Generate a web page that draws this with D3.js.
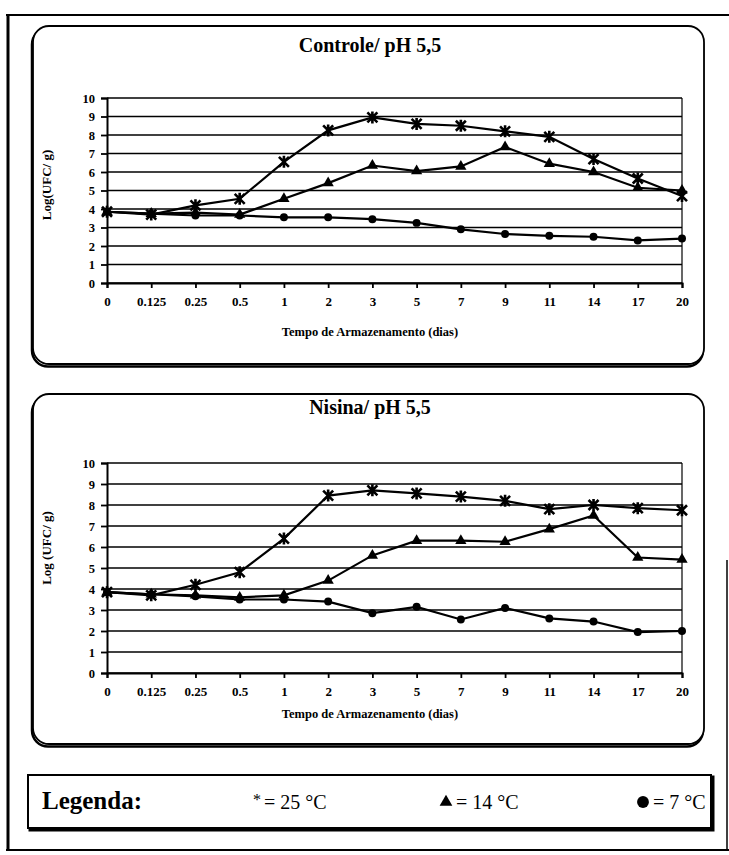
<html lang="pt">
<head>
<meta charset="utf-8">
<title>Controle e Nisina / pH 5,5</title>
<script src="https://d3js.org/d3.v7.min.js"></script>
<style>
  body { margin: 0; background: #fff; }
  text { font-family: "Liberation Serif", "Times New Roman", serif; fill: #000; }
</style>
</head>
<body>
<div id="chart"></div>
<script>
// storage time categories (dias)
var days = ["0", "0.125", "0.25", "0.5", "1", "2", "3", "5", "7", "9", "11", "14", "17", "20"];
var yTicks = [0, 1, 2, 3, 4, 5, 6, 7, 8, 9, 10];

// Controle / pH 5,5
var controle25 = [3.85, 3.7, 4.2, 4.55, 6.55, 8.25, 8.95, 8.6, 8.5, 8.2, 7.9, 6.7, 5.65, 4.7];
var controle14 = [3.85, 3.75, 3.8, 3.7, 4.55, 5.4, 6.35, 6.05, 6.3, 7.35, 6.45, 6.0, 5.15, 5.0];
var controle7  = [3.85, 3.75, 3.65, 3.65, 3.55, 3.55, 3.45, 3.25, 2.9, 2.65, 2.55, 2.5, 2.3, 2.4];

// Nisina / pH 5,5
var nisina25 = [3.85, 3.7, 4.2, 4.8, 6.4, 8.45, 8.7, 8.55, 8.4, 8.2, 7.8, 8.0, 7.85, 7.75];
var nisina14 = [3.85, 3.75, 3.7, 3.6, 3.7, 4.4, 5.6, 6.3, 6.3, 6.25, 6.85, 7.5, 5.5, 5.4];
var nisina7  = [3.85, 3.75, 3.65, 3.5, 3.5, 3.4, 2.85, 3.15, 2.55, 3.1, 2.6, 2.45, 1.95, 2.0];

// legend
var legendLabels = ["= 25 °C", "= 14 °C", "= 7 °C"];

var W = 729, H = 855;
var serif = "'Liberation Serif', 'Times New Roman', serif";
var svg = d3.select("#chart").append("svg")
  .attr("width", W).attr("height", H);

// outer frame
var frame = svg.append("g").attr("stroke", "#000").attr("fill", "none");
frame.append("line").attr("x1", 6).attr("x2", 729).attr("y1", 15).attr("y2", 15).attr("stroke-width", 2);
frame.append("line").attr("x1", 8).attr("x2", 8).attr("y1", 14).attr("y2", 850).attr("stroke-width", 3);
frame.append("line").attr("x1", 6).attr("x2", 729).attr("y1", 850).attr("y2", 850).attr("stroke-width", 2);
frame.append("line").attr("x1", 727).attr("x2", 727).attr("y1", 560).attr("y2", 850).attr("stroke-width", 1.5);

function roundBox(x0, y0, x1, y1) {
  // shadow, then box
  svg.append("rect").attr("x", x0 - 1).attr("y", y0 + 2.5)
    .attr("width", x1 - x0).attr("height", y1 - y0)
    .attr("rx", 16).attr("fill", "none").attr("stroke", "#000").attr("stroke-width", 2.5);
  svg.append("rect").attr("x", x0).attr("y", y0)
    .attr("width", x1 - x0).attr("height", y1 - y0)
    .attr("rx", 16).attr("fill", "#fff").attr("stroke", "#000").attr("stroke-width", 1.8);
}

function asterisk(s) {
  return "M" + (-s) + "," + (-s) + "L" + s + "," + s +
         "M" + (-s) + "," + s + "L" + s + "," + (-s) +
         "M0," + (-s - 1) + "L0," + (s + 1);
}

function drawChart(opt) {
  roundBox(opt.box[0], opt.box[1], opt.box[2], opt.box[3]);

  var x = d3.scalePoint().domain(days).range([107, 682]);
  var y = d3.scaleLinear().domain([0, 10]).range([opt.y0, opt.y10]);
  var g = svg.append("g");

  g.append("text")
    .attr("x", 370).attr("y", opt.titleY)
    .attr("text-anchor", "middle")
    .style("font-family", serif)
    .style("font-size", "20px").style("font-weight", "bold")
    .text(opt.title);

  // gridlines + right border
  g.selectAll(".grid").data(yTicks).enter().append("line")
    .attr("x1", x.range()[0]).attr("x2", x.range()[1])
    .attr("y1", function(d) { return y(d); })
    .attr("y2", function(d) { return y(d); })
    .attr("stroke", "#000").attr("stroke-width", 1.7);
  g.append("line")
    .attr("x1", x.range()[1]).attr("x2", x.range()[1])
    .attr("y1", y(0)).attr("y2", y(10))
    .attr("stroke", "#000").attr("stroke-width", 1.2);

  // Y axis
  var ya = g.append("g")
    .attr("transform", "translate(" + x.range()[0] + ",0)")
    .call(d3.axisLeft(y).tickValues(yTicks).tickSize(6).tickPadding(6).tickFormat(d3.format("d")));
  ya.select(".domain").attr("stroke-width", 2);
  ya.selectAll(".tick line").attr("stroke-width", 1.8);
  ya.selectAll("text").style("font-size", "12.5px").style("font-weight", "bold")
    .style("font-family", serif);

  // X axis
  var xa = g.append("g")
    .attr("transform", "translate(0," + y(0) + ")")
    .call(d3.axisBottom(x).tickSize(5).tickPadding(9));
  xa.select(".domain").attr("stroke-width", 2);
  xa.selectAll(".tick line").attr("stroke-width", 1.8);
  xa.selectAll("text").style("font-size", "13px").style("font-weight", "bold")
    .style("font-family", serif);

  g.append("text")
    .attr("x", 370).attr("y", opt.xTitleY)
    .attr("text-anchor", "middle")
    .style("font-family", serif)
    .style("font-size", "12.5px").style("font-weight", "bold")
    .text("Tempo de Armazenamento (dias)");

  g.append("text")
    .attr("transform", "translate(51," + opt.yTitleY + ") rotate(-90)")
    .attr("text-anchor", "middle")
    .style("font-family", serif)
    .style("font-size", "13px").style("font-weight", "bold")
    .text(opt.yTitle);

  var line = d3.line()
    .x(function(d, i) { return x(days[i]); })
    .y(function(d) { return y(d); });

  opt.series.forEach(function(s) {
    g.append("path").datum(s.values)
      .attr("d", line)
      .attr("fill", "none").attr("stroke", "#000").attr("stroke-width", 2.2);
  });

  opt.series.forEach(function(s) {
    var m = g.selectAll(null).data(s.values).enter().append("path")
      .attr("transform", function(d, i) { return "translate(" + x(days[i]) + "," + y(d) + ")"; });
    if (s.marker === "star") {
      m.attr("d", asterisk(5)).attr("fill", "none").attr("stroke", "#000").attr("stroke-width", 2.6);
    } else if (s.marker === "tri") {
      m.attr("d", d3.symbol(d3.symbolTriangle, 55)).attr("fill", "#000");
    } else {
      m.attr("d", d3.symbol(d3.symbolCircle, 50)).attr("fill", "#000");
    }
  });
}

drawChart({
  box: [33, 26, 704, 364],
  title: "Controle/ pH 5,5", titleY: 52,
  y0: 283, y10: 98,
  xTitleY: 336, yTitle: "Log(UFC/ g)", yTitleY: 185,
  series: [
    { values: controle25, marker: "star" },
    { values: controle14, marker: "tri" },
    { values: controle7, marker: "dot" }
  ]
});

drawChart({
  box: [33, 394, 704, 744],
  title: "Nisina/ pH 5,5", titleY: 414,
  y0: 673, y10: 463,
  xTitleY: 718, yTitle: "Log (UFC/ g)", yTitleY: 548,
  series: [
    { values: nisina25, marker: "star" },
    { values: nisina14, marker: "tri" },
    { values: nisina7, marker: "dot" }
  ]
});

// legend box
svg.append("rect").attr("x", 30).attr("y", 777).attr("width", 683).attr("height", 53)
  .attr("fill", "none").attr("stroke", "#000").attr("stroke-width", 3);
svg.append("rect").attr("x", 28).attr("y", 775).attr("width", 683).attr("height", 53)
  .attr("fill", "#fff").attr("stroke", "#000").attr("stroke-width", 2);
svg.append("text").attr("x", 42).attr("y", 809)
  .style("font-family", serif)
  .style("font-size", "25px").style("font-weight", "bold")
  .text("Legenda:");

// legend symbols
svg.append("text").attr("x", 253).attr("y", 805)
  .style("font-family", serif).style("font-size", "16px").text("*");
svg.append("path").attr("transform", "translate(446,802)")
  .attr("d", d3.symbol(d3.symbolTriangle, 70)).attr("fill", "#000");
svg.append("path").attr("transform", "translate(643,802)")
  .attr("d", d3.symbol(d3.symbolCircle, 110)).attr("fill", "#000");

var labelX = [264, 456, 653];
svg.selectAll(".leglab").data(legendLabels).enter().append("text")
  .attr("x", function(d, i) { return labelX[i]; })
  .attr("y", 809)
  .style("font-family", serif)
  .style("font-size", "20px")
  .text(function(d) { return d; });
</script>
</body>
</html>
